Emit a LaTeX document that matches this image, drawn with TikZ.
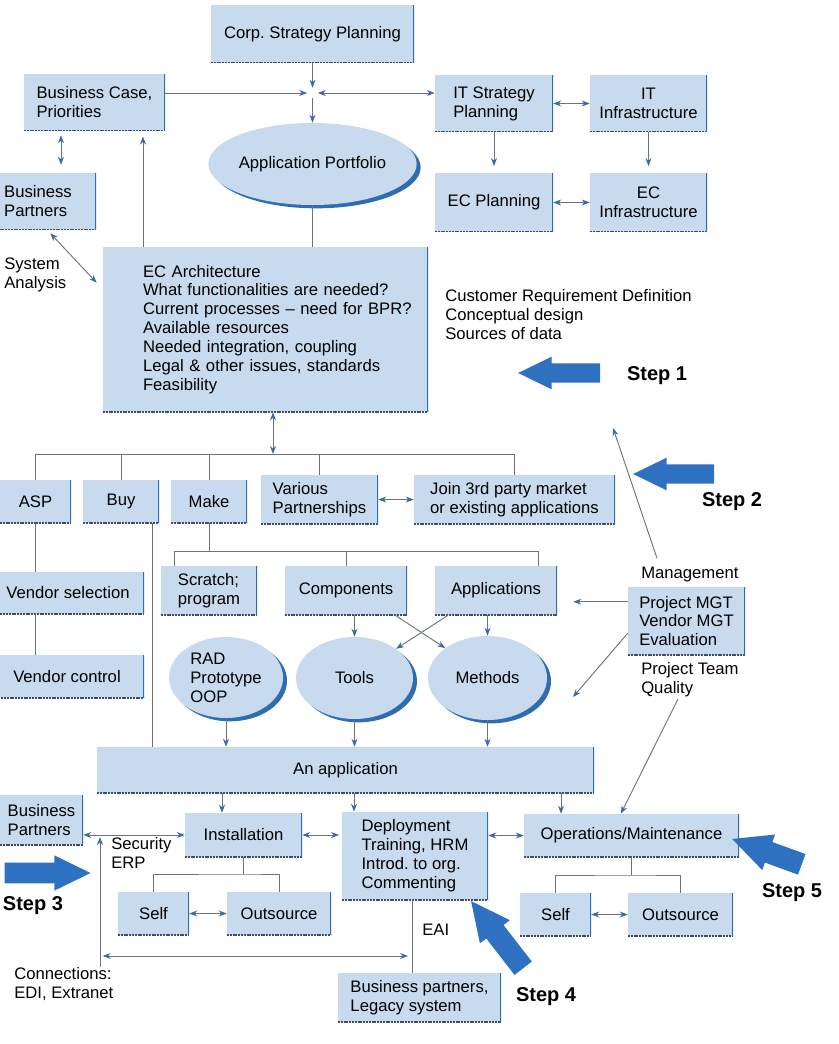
\documentclass[tikz,border=0pt]{standalone}
\usepackage{fontspec}
\setmainfont{Liberation Sans}
\usepackage{tikz}
\usetikzlibrary{arrows.meta,calc,shapes.geometric,shapes.arrows,shadows}
\definecolor{BoxFill}{HTML}{C8DAEE}
\definecolor{EdgeBlue}{HTML}{2F6DB0}
\definecolor{EdgeDark}{HTML}{3C4E66}
\definecolor{LineGray}{HTML}{6A737E}
\definecolor{TipBlue}{HTML}{3A6CA3}
\definecolor{StepBlue}{HTML}{2E71C1}

\begin{document}
\begin{tikzpicture}[
  x=0.75pt, y=-0.75pt,
  every node/.append style={font=\fontsize{12.5}{14.2}\selectfont},
  wh/.style 2 args={minimum width=#1*0.75pt, minimum height=#2*0.75pt},
  box/.style={
    fill=BoxFill, align=left, inner sep=2pt,
    path picture={
      \draw[EdgeDark, line width=1.6pt, dash pattern=on 1.5pt off 0.6pt]
        (path picture bounding box.south west) -- (path picture bounding box.south east);
      \draw[EdgeBlue, line width=2.2pt]
        (path picture bounding box.north east) -- (path picture bounding box.south east);
    }
  },
  oval/.style={
    ellipse, fill=BoxFill, align=left, inner sep=0pt,
    drop shadow={shadow xshift=3pt, shadow yshift=-2.5pt, fill=EdgeBlue, opacity=1}
  },
  note/.style={align=left, inner sep=0pt},
  conn/.style={draw=LineGray, line width=0.7pt},
  arrow/.style={conn, -{Stealth[length=6pt, width=4.5pt, color=TipBlue]}},
  dbl/.style={conn, {Stealth[length=6pt, width=4.5pt, color=TipBlue]}-{Stealth[length=6pt, width=4.5pt, color=TipBlue]}},
  steparrow/.style={single arrow, fill=StepBlue, inner xsep=0pt, inner ysep=7pt,
    single arrow head extend=5pt, single arrow tip angle=52, minimum height=#1*0.75pt},
  steplabel/.style={font=\fontsize{15}{17}\selectfont\bfseries, inner sep=0pt}
]
\useasboundingbox (0,0) rectangle (838,1044);

% planning level
\node[box, wh={203}{58}, align=center] (corp) at (312.5,34) {Corp.\ Strategy Planning};
\node[box, wh={141}{57}] (bcase) at (94.5,102.5) {Business Case,\\Priorities};
\node[box, wh={116}{57}] (bpartA) at (38,201.5) {Business\\Partners};
\node[note, anchor=north west] (sysan) at (4,258) {System\\Analysis};
\node[box, wh={118}{57}] (itplan) at (494,103.5) {IT Strategy\\Planning};
\node[box, wh={117}{57}, align=center] (itinfra) at (648.5,103.5) {IT\\Infrastructure};
\node[box, wh={118}{59}] (ecplan) at (494,202.5) {EC Planning};
\node[box, wh={117}{59}, align=center] (ecinfra) at (648.5,202.5) {EC\\Infrastructure};
\node[oval, wh={177}{82}] (portfolio) at (312.5,164) {Application Portfolio};
\node[box, wh={325}{165}, text width=245*0.75pt] (ecarch) at (265.5,329.5) {EC Architecture\\\mbox{What functionalities are needed?}\\\mbox{Current processes -- need for BPR?}\\Available resources\\Needed integration, coupling\\\mbox{Legal \& other issues, standards}\\Feasibility};
\node[note, anchor=north west] (reqdef) at (445,289) {Customer Requirement Definition\\Conceptual design\\Sources of data};

% options
\coordinate (bus) at (273,454);
\node[box, wh={71}{43}, align=center] (asp) at (35.5,501.5) {ASP};
\node[box, wh={76}{43}, align=center] (buy) at (121,501.5) {Buy};
\node[box, wh={76}{43}, align=center] (make) at (209,501.5) {Make};
\node[box, wh={117}{49}] (partner) at (319.5,499.5) {Various\\Partnerships};
\node[box, wh={201}{49}] (join) at (514.5,499.5) {Join 3rd party market\\or existing applications};
\node[box, wh={152}{42}, align=center] (vsel) at (68,593) {Vendor selection};
\node[box, wh={154}{43}, align=center] (vctrl) at (67,676.5) {Vendor control};
\node[box, wh={96}{49}] (scratch) at (209,590.5) {Scratch;\\program};
\node[box, wh={122}{49}] (comps) at (346,590.5) {Components};
\node[box, wh={122}{49}] (apps) at (496,590.5) {Applications};
\node[oval, wh={114}{81}] (rad) at (226,677.5) {RAD\\Prototype\\OOP};
\node[oval, wh={117}{82}] (tools) at (354.5,678) {Tools};
\node[oval, wh={119}{84}] (methods) at (487.5,678) {Methods};
\node[note, anchor=west] (mgmt) at (641,574) {Management};
\node[box, wh={117}{68}] (mgt) at (686.5,621) {Project MGT\\Vendor MGT\\Evaluation};
\node[note, anchor=north west] (team) at (641,662) {Project Team\\Quality};

% implementation
\node[box, wh={497}{46}, align=center] (app) at (345.5,770) {An application};
\node[box, wh={83}{50}] (bpartB) at (41.5,820) {Business\\Partners};
\node[box, wh={117}{44}, align=center] (install) at (243.5,835) {Installation};
\node[note, anchor=north west] (secur) at (111,837) {Security\\ERP};
\node[box, wh={71}{43}, align=center] (selfA) at (153.5,913.5) {Self};
\node[box, wh={104}{43}, align=center] (outA) at (279,913.5) {Outsource};
\node[box, wh={146}{88}] (deploy) at (415,856) {Deployment\\Training, HRM\\Introd.\ to org.\\Commenting};
\node[box, wh={215}{43}, align=center] (ops) at (631.5,835.5) {Operations/Maintenance};
\node[box, wh={71}{43}, align=center] (selfB) at (555.5,914.5) {Self};
\node[box, wh={105}{43}, align=center] (outB) at (680.5,914.5) {Outsource};
\node[box, wh={163}{49}] (legacy) at (419.5,997.5) {Business partners,\\Legacy system};
\node[note, anchor=west] (eai) at (422,930) {EAI};
\node[note, anchor=north west] (conn) at (14,967) {Connections:\\EDI, Extranet};

% steps
\node[steparrow=82, rotate=180] (arrA) at (569,373) {};
\node[steplabel] (stepA) at (657,376) {Step 1};
\node[steparrow=81, rotate=180] (arrB) at (683.5,474) {};
\node[steplabel] (stepB) at (732,502) {Step 2};
\node[steparrow=86, inner ysep=7.5pt, single arrow head extend=5.5pt] (arrC) at (37,873) {};
\node[steplabel] (stepC) at (33,906) {Step 3};
\node[steparrow=85, inner ysep=8pt, single arrow head extend=6pt, rotate=127.8] (arrD) at (504,943.5) {};
\node[steplabel] (stepD) at (546,997) {Step 4};
\node[steparrow=74, inner ysep=8pt, single arrow head extend=6pt, rotate=160] (arrE) at (777.5,855.5) {};
\node[steplabel] (stepE) at (792,893) {Step 5};

% connectors, top
\coordinate (hub) at (312.5,93);
\draw[arrow, shorten >=4pt] (corp) -- (hub);
\draw[arrow, shorten >=4pt] (bcase.east |- hub) -- (hub);
\draw[dbl, shorten <=4pt] (hub) -- (itplan.west |- hub);
\draw[arrow, shorten <=4pt] (hub) -- (portfolio.north);
\draw[conn] (portfolio.south) -- (portfolio.south |- ecarch.north);
\draw[arrow, shorten >=4pt] (143,0 |- ecarch.north) -- (143,0 |- bcase.south);
\draw[dbl, shorten <=3pt, shorten >=6pt] (61,0 |- bcase.south) -- (61,0 |- bpartA.north);
\draw[dbl] ([shift={(-46,3)}]bpartA.south east) -- ([shift={(-6,36)}]ecarch.north west);
\draw[dbl] (itplan.east) -- (itinfra.west);
\draw[arrow, shorten >=5pt] (itplan.south) -- (ecplan.north);
\draw[arrow, shorten >=5pt] (itinfra.south) -- (ecinfra.north);
\draw[dbl] (ecplan.east) -- (ecinfra.west);

% connectors, options
\draw[dbl] (bus |- ecarch.south) -- (bus);
\draw[conn] (asp.north) -- (asp.north |- bus) -- (join.north |- bus) -- (join.north);
\foreach \nd in {buy, make, partner} \draw[conn] (\nd.north) -- (\nd.north |- bus);
\draw[dbl] (partner.east) -- (join.west);
\draw[conn] (asp.south) -- (asp.south |- vsel.north);
\draw[conn] (asp.south |- vsel.south) -- (asp.south |- vctrl.north);
\draw[conn] (152,0 |- buy.south) -- (152,0 |- app.north);
\coordinate (mbus) at (207,551);
\draw[conn] (make.south) -- (make.south |- mbus);
\draw[conn] (174,0 |- scratch.north) -- (174,0 |- mbus) -- (538,0 |- mbus) -- (538,0 |- apps.north);
\draw[conn] (comps.north) -- (comps.north |- mbus);
\draw[arrow] (tools.north |- comps.south) -- (tools.north);
\draw[arrow] (methods.north |- apps.south) -- (methods.north);
\draw[arrow] ([xshift=-9pt]comps.south east) -- (methods.north west);
\draw[arrow] ([xshift=10pt]apps.south west) -- (tools.north east);
\foreach \nd in {rad, tools, methods} \draw[arrow] (\nd.south) -- (\nd.south |- app.north);

% management
\coordinate (mgtside) at ($(mgt.north west)+(0,15)$);
\draw[arrow, shorten >=12pt] (mgtside) -- (apps.east |- mgtside);
\coordinate (mgttip) at (573,697);
\draw[arrow] ($(mgt.south west)+(0,-22)$) -- (mgttip);
\coordinate (reqtip) at (613,428);
\draw[arrow] ($(mgmt.north west)+(16,-8)$) -- (reqtip);
\draw[arrow] ($(team.south west)+(37,2)$) -- ([xshift=-8pt]ops.north);

% connectors, implementation
\draw[arrow] (222,0 |- app.south) -- (222,0 |- install.north);
\draw[arrow] (354,0 |- app.south) -- (354,0 |- deploy.north);
\draw[arrow] (561,0 |- app.south) -- (561,0 |- ops.north);
\draw[dbl] (bpartB.east |- install.west) -- (install.west);
\draw[arrow, shorten >=1.5pt] (100,0 |- conn.north) -- (100,0 |- install.west);
\draw[dbl, shorten >=2pt] (install.east) -- (deploy.west |- install.east);
\coordinate (ibus) at (243.5,874);
\draw[conn] (install.south) -- (ibus);
\draw[conn] (selfA.north) |- (ibus) -| (outA.north);
\draw[dbl] (selfA.east) -- (outA.west);
\draw[dbl] (deploy.east |- ops.west) -- (ops.west);
\coordinate (obus) at (631.5,875);
\draw[conn] (ops.south) -- (obus);
\draw[conn] (selfB.north) |- (obus) -| (outB.north);
\draw[dbl] (selfB.east) -- (outB.west);
\draw[conn] (412,0 |- deploy.south) -- (412,0 |- legacy.north);
\coordinate (linkL) at (100,956);
\coordinate (linkR) at (412,956);
\draw[dbl, shorten <=2pt, shorten >=3pt] (linkL) -- (linkR);
\end{tikzpicture}
\end{document}
